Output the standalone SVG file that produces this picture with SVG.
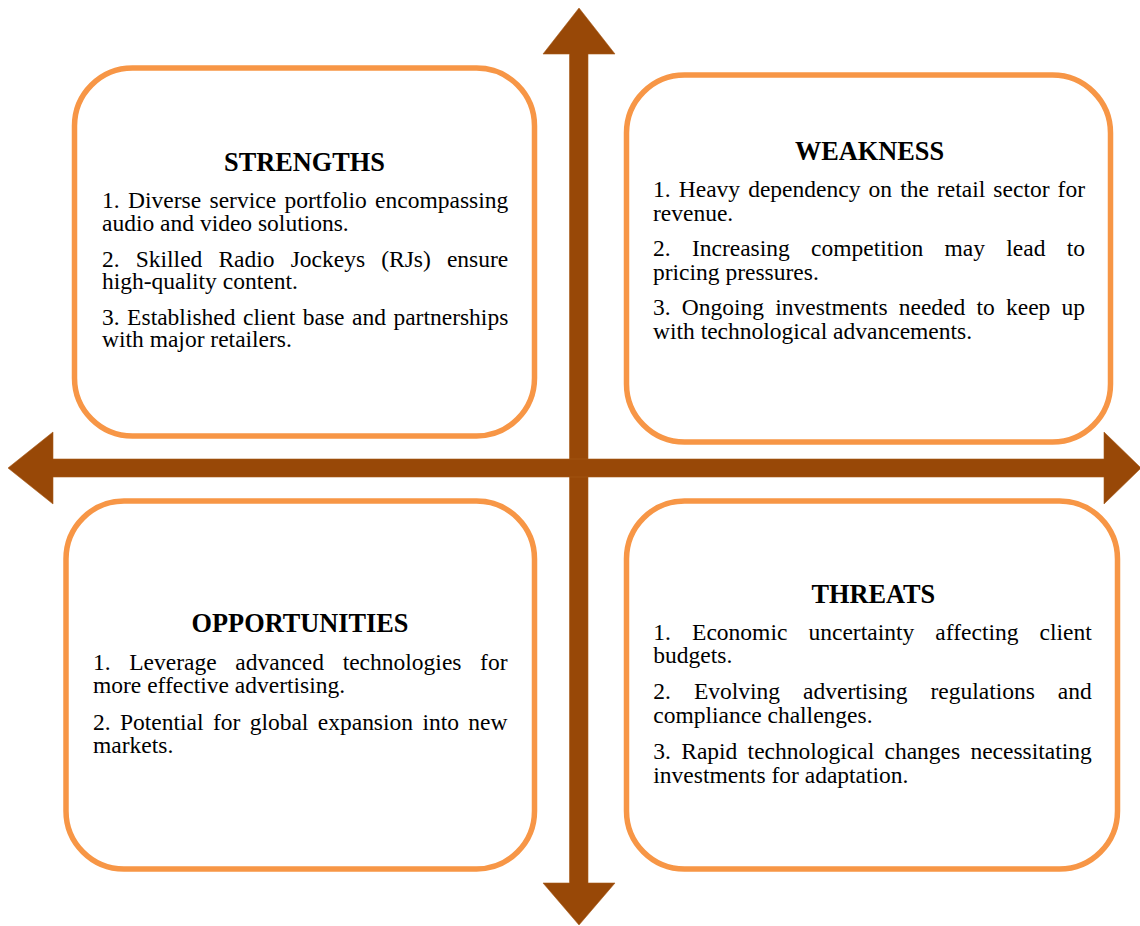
<svg xmlns="http://www.w3.org/2000/svg" width="1140" height="926" viewBox="0 0 1140 926">
<style>
.box{fill:#fff;stroke:#F79646;stroke-width:5.5}
.arr{fill:#984807;stroke:#A85A1A;stroke-width:0.6}
.t{font-family:"Liberation Serif","Times New Roman",serif;font-size:23.5px;fill:#000}
.h{font-family:"Liberation Serif","Times New Roman",serif;font-size:26.3px;font-weight:bold;fill:#000;text-anchor:middle}
</style>
<rect width="1140" height="926" fill="#fff"/>
<g id="connectors">
<polygon class="arr" points="579,8 615,54 588,54 588,883 615,883 579,925 543,883 569.5,883 569.5,54 543,54"/>
<polygon class="arr" points="8,468 53,432 53,459 1104,459 1104,432 1141,468 1104,504 1104,477 53,477 53,504"/>
</g>
<g id="strengths">
<rect class="box" x="74.5" y="68" width="460" height="368" rx="58" ry="58"/>
<text class="h" x="304.5" y="170.7">STRENGTHS</text>
<text class="t" x="102" y="208" word-spacing="2.5" textLength="406.3" lengthAdjust="spacing">1. Diverse service portfolio encompassing</text>
<text class="t" x="102" y="231">audio and video solutions.</text>
<text class="t" x="102" y="266.5" word-spacing="10.2" textLength="406.3" lengthAdjust="spacing">2. Skilled Radio Jockeys (RJs) ensure</text>
<text class="t" x="102" y="289">high-quality content.</text>
<text class="t" x="102" y="324.5" word-spacing="1.6" textLength="406.3" lengthAdjust="spacing">3. Established client base and partnerships</text>
<text class="t" x="102" y="347">with major retailers.</text>
</g>
<g id="weakness">
<rect class="box" x="626.5" y="75" width="484" height="367" rx="58" ry="58"/>
<text class="h" x="869.5" y="160">WEAKNESS</text>
<text class="t" x="653" y="196.7" word-spacing="2.2" textLength="432" lengthAdjust="spacing">1. Heavy dependency on the retail sector for</text>
<text class="t" x="653" y="220.7">revenue.</text>
<text class="t" x="653" y="255.5" word-spacing="15.4" textLength="432" lengthAdjust="spacing">2. Increasing competition may lead to</text>
<text class="t" x="653" y="279.5">pricing pressures.</text>
<text class="t" x="653" y="315" word-spacing="5.3" textLength="432" lengthAdjust="spacing">3. Ongoing investments needed to keep up</text>
<text class="t" x="653" y="338.5">with technological advancements.</text>
</g>
<g id="opportunities">
<rect class="box" x="66" y="501" width="468.5" height="368" rx="58" ry="58"/>
<text class="h" x="300" y="632.3">OPPORTUNITIES</text>
<text class="t" x="93" y="669.5" word-spacing="12.7" textLength="414.5" lengthAdjust="spacing">1. Leverage advanced technologies for</text>
<text class="t" x="93" y="693">more effective advertising.</text>
<text class="t" x="93" y="729.5" word-spacing="3.5" textLength="414.5" lengthAdjust="spacing">2. Potential for global expansion into new</text>
<text class="t" x="93" y="753">markets.</text>
</g>
<g id="threats">
<rect class="box" x="626.5" y="501" width="491" height="368" rx="58" ry="58"/>
<text class="h" x="873.3" y="603.3">THREATS</text>
<text class="t" x="653.3" y="639.7" word-spacing="15.2" textLength="438.5" lengthAdjust="spacing">1. Economic uncertainty affecting client</text>
<text class="t" x="653.3" y="662.8">budgets.</text>
<text class="t" x="653.3" y="698.8" word-spacing="17.1" textLength="438.5" lengthAdjust="spacing">2. Evolving advertising regulations and</text>
<text class="t" x="653.3" y="722.5">compliance challenges.</text>
<text class="t" x="653.3" y="758.8" word-spacing="4.4" textLength="438.5" lengthAdjust="spacing">3. Rapid technological changes necessitating</text>
<text class="t" x="653.3" y="782.5">investments for adaptation.</text>
</g>
</svg>
